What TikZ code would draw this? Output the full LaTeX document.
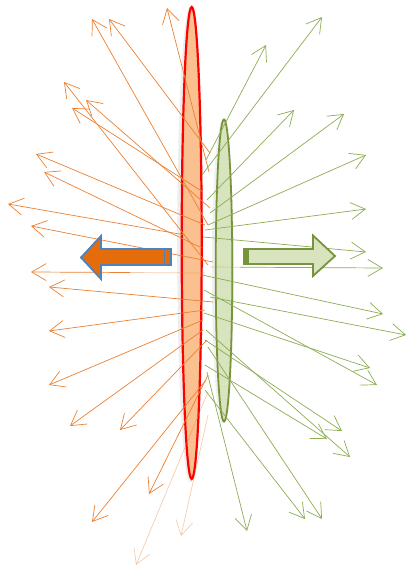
\documentclass[tikz,border=0pt]{standalone}
\usetikzlibrary{arrows.meta}
\definecolor{rayorange}{RGB}{235,128,50}
\definecolor{raygreen}{RGB}{140,172,82}
\definecolor{lensred}{RGB}{255,0,0}
\definecolor{lensredfill}{RGB}{250,192,144}
\definecolor{lensgreenfill}{RGB}{215,228,189}
\definecolor{lensgreen}{RGB}{119,147,60}
\definecolor{arroworange}{RGB}{228,108,10}
\definecolor{arrowblue}{RGB}{79,129,189}
\tikzset{
  raytip/.style={-{Straight Barb[length=14.5pt,width=17pt]}},
  oray/.style={raytip, draw=rayorange, line width=0.7pt},
  gray/.style={raytip, draw=raygreen, line width=0.7pt},
  faint/.style={opacity=0.4},
  redlens/.style={draw=lensred, fill=lensredfill, line width=2.2pt},
  greenlens/.style={draw=lensgreen, fill=lensgreenfill, line width=1.8pt},
  leftblock/.style={draw=arrowblue, fill=arroworange, line width=1.8pt, line join=miter},
  rightblock/.style={draw=lensgreen, fill=lensgreenfill, line width=1.8pt, line join=miter}
}
\begin{document}
\begin{tikzpicture}[x=1pt,y=-1pt]
\useasboundingbox (0,0) rectangle (407,567);
% shadows
\fill[black, opacity=0.07] (190.2,244.5) ellipse [x radius=13, y radius=238];
\fill[black, opacity=0.06] (222.8,271.5) ellipse [x radius=11, y radius=152];
% lenses
\path[redlens] (191.7,243) ellipse [x radius=10, y radius=236];
\path[greenlens] (224,270.5) ellipse [x radius=8.3, y radius=151];
% orange rays
\foreach \ox/\oy/\tx/\ty in {
  209/172/167/8, 208/225/92/19, 210/153/109/19, 208/265/64/82,
  210/208/86/100, 203/192/72/108, 205/225/36/154, 202/248/44/172,
  185/235/8/204, 213/262/31/226, 213/302/49/287, 205/310/49/331,
  203/320/49/385, 203/330/70/426, 207/340/120/430, 208/375/149/494,
  206/380/92/522}
  \draw[oray] (\ox,\oy) -- (\tx,\ty);
\draw[oray] (130,272.5) -- (31,272);
\draw[draw=rayorange, line width=0.7pt, faint] (205,273) -- (130,272.5);
\draw[oray, faint] (208,415) -- (181,536);
\draw[oray, faint] (208,392) -- (136,565);
% green rays
\foreach \ox/\oy/\tx/\ty in {
  202/175/322/17, 206/160/266/45, 207/200/294/110, 210/213/344/114,
  208/225/366/155, 205/230/366/209, 203/237/366/252, 202/275/383/314,
  210/297/406/335, 204/313/370/368, 204/290/377/385, 205/340/342/431,
  205/365/327/439, 206/330/350/457, 205/390/305/519, 208/347/322/519,
  207/372/247/531}
  \draw[gray] (\ox,\oy) -- (\tx,\ty);
\draw[draw=raygreen, line width=0.7pt, faint] (210,267) -- (240,267.2);
\draw[gray] (240,267.2) -- (383,268);
% block arrows
\path[leftblock] (171,249) -- (101,249) -- (101,236) -- (81,257.5) -- (101,279) -- (101,265) -- (171,265) -- cycle;
\draw[arrowblue, line width=1.2pt] (164.5,249) -- (164.5,265);
\path[rightblock] (244,249) -- (313,249) -- (313,235.5) -- (335,256) -- (313,276) -- (313,264) -- (244,264) -- cycle;
\fill[lensgreen] (244,249) rectangle (249,264);
\end{tikzpicture}
\end{document}
